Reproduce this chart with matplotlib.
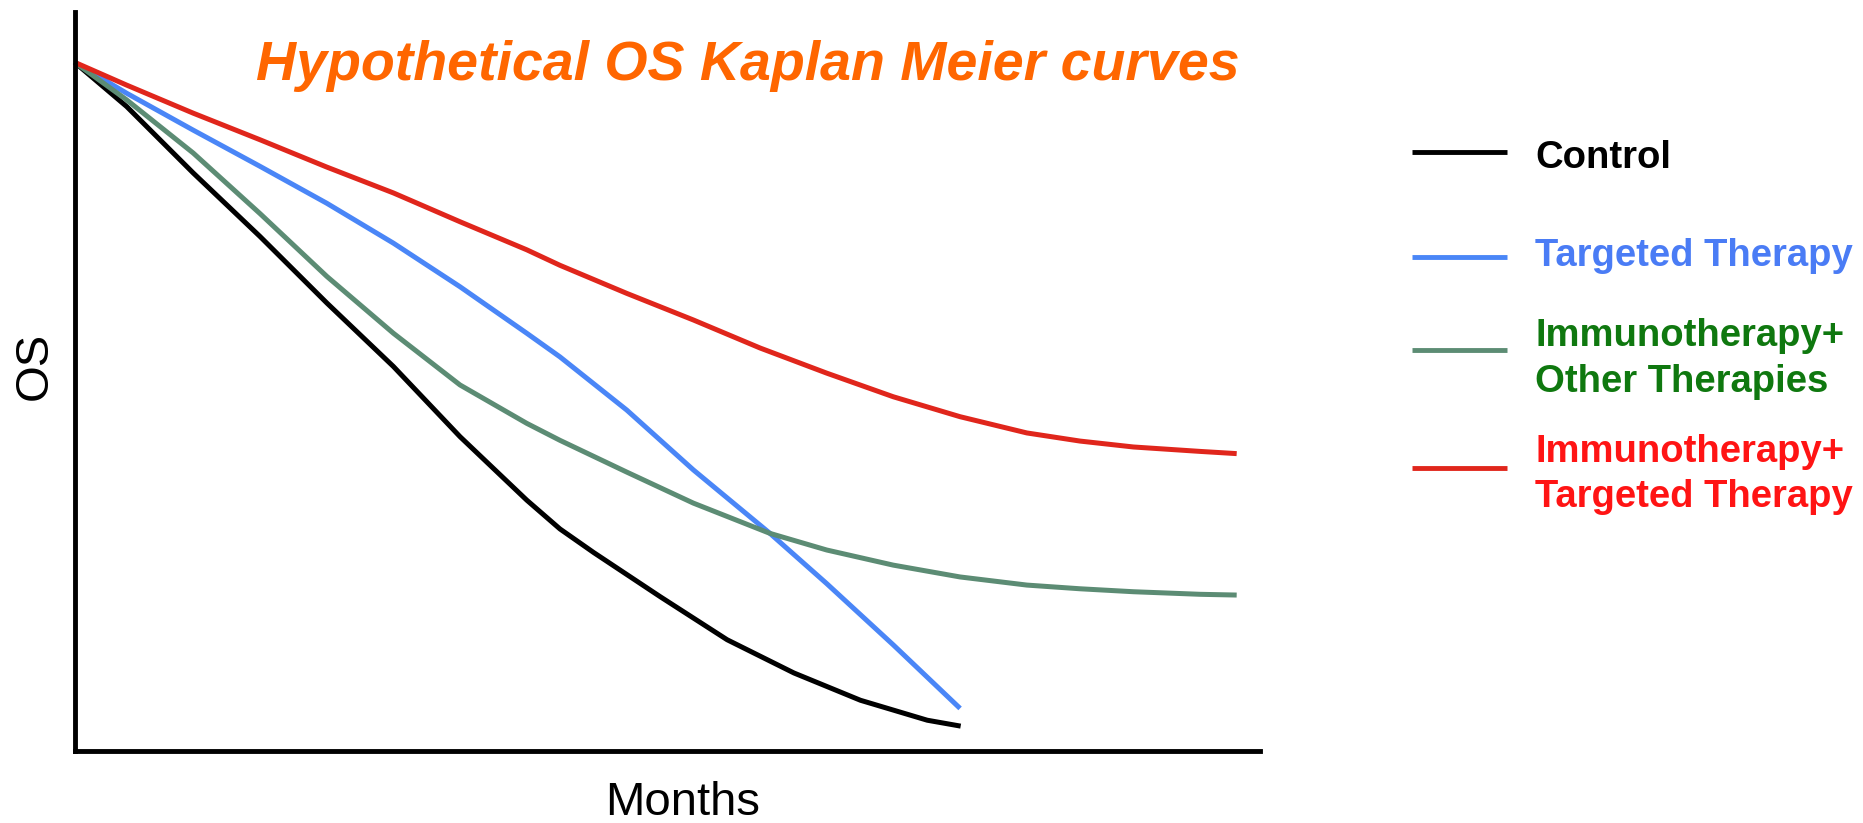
import matplotlib

matplotlib.use("Agg")
import matplotlib.pyplot as plt
from matplotlib.lines import Line2D

W, H = 1863, 823

# curves (months on a 0-60 scale, OS as fraction of axis height)
control_months = [0, 2.64, 6.01, 9.39, 12.77, 16.14, 19.51, 22.89, 24.57, 26.28, 29.66, 33.03,
                  36.41, 39.78, 43.16, 44.85]
control_os = [0.932, 0.872, 0.782, 0.696, 0.606, 0.520, 0.425, 0.339, 0.300, 0.268, 0.208, 0.150,
              0.105, 0.068, 0.041, 0.033]

targeted_months = [0, 2.64, 6.01, 9.39, 12.77, 16.14, 19.51, 22.89, 24.57, 27.95, 31.32, 35.2,
                   38.07, 41.44, 44.82]
targeted_os = [0.932, 0.890, 0.840, 0.791, 0.741, 0.687, 0.628, 0.565, 0.533, 0.461, 0.380, 0.294,
               0.226, 0.143, 0.057]

immuno_other_months = [0, 2.64, 6.01, 9.39, 12.77, 16.14, 19.51, 22.89, 24.57, 27.95, 31.32, 35.2,
                       38.07, 41.44, 44.82, 48.2, 50.89, 53.59, 56.97, 58.82]
immuno_other_os = [0.932, 0.881, 0.809, 0.727, 0.642, 0.565, 0.495, 0.443, 0.420, 0.377, 0.335, 0.294,
                   0.2715, 0.251, 0.235, 0.224, 0.219, 0.215, 0.2115, 0.2105]

immuno_targeted_months = [0, 2.64, 6.01, 9.39, 12.77, 16.14, 19.51, 22.89, 24.57, 27.95, 31.32, 34.7,
                          38.07, 41.44, 44.82, 48.2, 50.89, 53.59, 56.97, 58.82]
immuno_targeted_os = [0.932, 0.901, 0.863, 0.827, 0.790, 0.755, 0.716, 0.678, 0.657, 0.619, 0.583, 0.545,
                      0.511, 0.479, 0.452, 0.430, 0.419, 0.411, 0.405, 0.402]

labels = ["Control", "Targeted Therapy", "Immunotherapy+\nOther Therapies", "Immunotherapy+\nTargeted Therapy"]
line_colors = ["#000000", "#4a86f7", "#5c8c74", "#e0261c"]
text_colors = ["#000000", "#4a7cf5", "#0f780f", "#ff1414"]

plt.rcParams["font.family"] = ["Liberation Sans", "DejaVu Sans"]

fig = plt.figure(figsize=(W / 100, H / 100), dpi=100)
ax = fig.add_axes([74.5 / W, (H - 750.5) / H, (1260 - 74.5) / W, (750.5 - 12) / H])

series = [
    (control_months, control_os),
    (targeted_months, targeted_os),
    (immuno_other_months, immuno_other_os),
    (immuno_targeted_months, immuno_targeted_os),
]
for (months, os_values), color in zip(series, line_colors):
    ax.plot(months, os_values, color=color, linewidth=3.6, solid_capstyle="butt",
            solid_joinstyle="round", clip_on=False)

ax.set_xlim(0, 60)
ax.set_ylim(0, 1)
ax.set_xticks([])
ax.set_yticks([])
for side in ("top", "right"):
    ax.spines[side].set_visible(False)
for side in ("left", "bottom"):
    ax.spines[side].set_linewidth(3.5)

fig.text(748 / W, 1 - 80 / H, "Hypothetical OS Kaplan Meier curves", ha="center", va="baseline",
         fontsize=40, fontweight="bold", fontstyle="italic", color="#ff6600")
fig.text(683 / W, 1 - 815 / H, "Months", ha="center", va="baseline", fontsize=34)
fig.text(35 / W, 1 - 365.5 / H, "OS", ha="center", va="center", rotation=90, fontsize=34)

# hand-placed legend
handle_y = [152.3, 256.7, 350, 467.7]
first_baseline = [167.7, 265.7, 346.5, 461.5]
line_step = 45.5
for label, lcolor, tcolor, hy, base in zip(labels, line_colors, text_colors, handle_y, first_baseline):
    fig.add_artist(Line2D([1412 / W, 1507 / W], [1 - hy / H, 1 - hy / H], color=lcolor,
                          linewidth=3.5, solid_capstyle="butt"))
    for i, part in enumerate(label.split("\n")):
        fig.text(1535 / W, 1 - (base + i * line_step) / H, part, ha="left", va="baseline",
                 fontsize=27.5, fontweight="bold", color=tcolor)

fig.savefig("out.png", dpi=100)
